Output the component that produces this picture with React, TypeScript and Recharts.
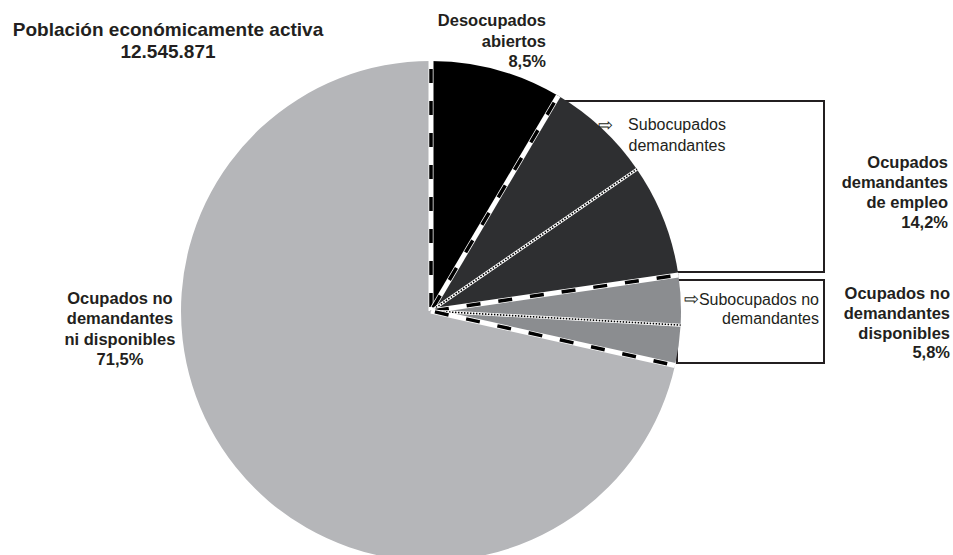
import React from "react";
import { PieChart, Pie, Cell, Sector } from "recharts";

const sliceNames = [
  "Desocupados abiertos",
  "Subocupados demandantes",
  "Otros ocupados demandantes",
  "Subocupados no demandantes",
  "Otros ocupados no demandantes disponibles",
  "Ocupados no demandantes ni disponibles",
];
const sliceGroups = [
  "Desocupados abiertos",
  "Ocupados demandantes de empleo",
  "Ocupados demandantes de empleo",
  "Ocupados no demandantes disponibles",
  "Ocupados no demandantes disponibles",
  "Ocupados no demandantes ni disponibles",
];
const sliceValues = [8.5, 6.9, 7.3, 3.2, 2.6, 71.5];
const sliceColors = ["#000000", "#2e2f31", "#2e2f31", "#8b8d90", "#8b8d90", "#b5b6b9"];

const data = sliceNames.map((name, i) => ({
  name,
  group: sliceGroups[i],
  value: sliceValues[i],
  prevGroup: sliceGroups[(i - 1 + sliceGroups.length) % sliceGroups.length],
}));

const TEXT = "#231f20";
const FONT = "'Liberation Sans', Arial, Helvetica, sans-serif";

const RAD = Math.PI / 180;

const BoundaryShape = (props: any) => {
  const { cx, cy, outerRadius, startAngle, payload } = props;
  const x2 = cx + outerRadius * Math.cos(-startAngle * RAD);
  const y2 = cy + outerRadius * Math.sin(-startAngle * RAD);
  const p = payload && payload.payload ? payload.payload : payload;
  const newGroup = p && p.group !== p.prevGroup;
  if (newGroup) {
    return (
      <g>
        <line x1={cx} y1={cy} x2={x2} y2={y2} stroke="#ffffff" strokeWidth={5} />
        <line x1={cx} y1={cy} x2={x2} y2={y2} stroke="#000000" strokeWidth={3.5} strokeDasharray="14 18" strokeDashoffset={-4} />
      </g>
    );
  }
  return (
    <g>
      <line x1={cx} y1={cy} x2={x2} y2={y2} stroke="#ffffff" strokeWidth={3} />
      <line x1={cx} y1={cy} x2={x2} y2={y2} stroke="#000000" strokeWidth={1.6} strokeDasharray="1.5 1.5" />
    </g>
  );
};

const FillShape = (props: any) => <Sector {...props} stroke="none" />;

export default function App() {
  const W = 953;
  const H = 555;
  const cx = 431;
  const cy = 311;
  const R = 250;
  return (
    <div style={{ position: "absolute", left: 0, top: 0, width: W, height: H, background: "#ffffff", overflow: "hidden" }}>
      <svg width={W} height={H} style={{ position: "absolute", left: 0, top: 0 }}>
        <rect x={560} y={101} width={264} height={171} fill="none" stroke={TEXT} strokeWidth={2} />
        <rect x={677} y={280} width={147} height={83} fill="none" stroke={TEXT} strokeWidth={2} />
      </svg>
      <div style={{ position: "absolute", left: 0, top: 0 }}>
        <PieChart width={W} height={H} margin={{ top: 0, right: 0, bottom: 0, left: 0 }}>
          <Pie
            data={data}
            dataKey="value"
            nameKey="name"
            cx={cx}
            cy={cy}
            outerRadius={R}
            innerRadius={0}
            startAngle={90}
            endAngle={-270}
            stroke="none"
            shape={FillShape}
            isAnimationActive={false}
            label={false}
            labelLine={false}
          >
            {data.map((d, i) => (
              <Cell key={d.name} fill={sliceColors[i]} />
            ))}
          </Pie>
          <Pie
            data={data}
            dataKey="value"
            nameKey="name"
            cx={cx}
            cy={cy}
            outerRadius={R}
            innerRadius={0}
            startAngle={90}
            endAngle={-270}
            fill="none"
            stroke="none"
            shape={BoundaryShape}
            isAnimationActive={false}
            label={false}
            labelLine={false}
          />
        </PieChart>
      </div>
      <svg width={W} height={H} style={{ position: "absolute", left: 0, top: 0, pointerEvents: "none" }}>
        <g fontFamily={FONT} fill={TEXT} fontWeight="bold">
          <text x={168} y={36} fontSize={19} textAnchor="middle">Población económicamente activa</text>
          <text x={168} y={58} fontSize={19} textAnchor="middle">12.545.871</text>

          <text x={546} y={26} fontSize={16.5} textAnchor="end">Desocupados</text>
          <text x={546} y={47} fontSize={16.5} textAnchor="end">abiertos</text>
          <text x={546} y={67} fontSize={16.5} textAnchor="end">8,5%</text>

          <text x={948} y={168} fontSize={16.5} textAnchor="end">Ocupados</text>
          <text x={948} y={188} fontSize={16.5} textAnchor="end">demandantes</text>
          <text x={948} y={208} fontSize={16.5} textAnchor="end">de empleo</text>
          <text x={948} y={228} fontSize={16.5} textAnchor="end">14,2%</text>

          <text x={950} y={299} fontSize={16.5} textAnchor="end">Ocupados no</text>
          <text x={950} y={319} fontSize={16.5} textAnchor="end">demandantes</text>
          <text x={950} y={339} fontSize={16.5} textAnchor="end">disponibles</text>
          <text x={950} y={358} fontSize={16.5} textAnchor="end">5,8%</text>

          <text x={120} y={304} fontSize={16.5} textAnchor="middle">Ocupados no</text>
          <text x={120} y={324} fontSize={16.5} textAnchor="middle">demandantes</text>
          <text x={120} y={345} fontSize={16.5} textAnchor="middle">ni disponibles</text>
          <text x={120} y={365} fontSize={16.5} textAnchor="middle">71,5%</text>
        </g>
        <g fontFamily={FONT} fill={TEXT}>
          <text x={598} y={131} fontSize={18}>⇨</text>
          <text x={677} y={130} fontSize={16} textAnchor="middle">Subocupados</text>
          <text x={677} y={151} fontSize={16} textAnchor="middle">demandantes</text>

          <text x={699} y={305} fontSize={18} textAnchor="end">⇨</text>
          <text x={819} y={305} fontSize={16} textAnchor="end">Subocupados no</text>
          <text x={819} y={324} fontSize={16} textAnchor="end">demandantes</text>
        </g>
      </svg>
    </div>
  );
}
